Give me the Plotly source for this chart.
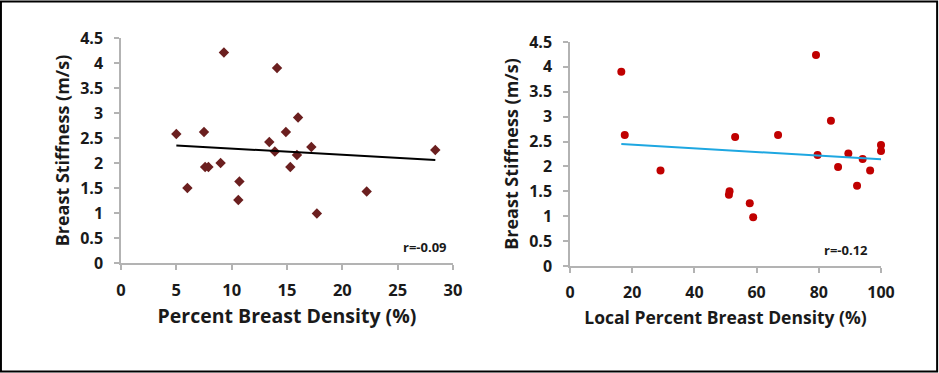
import numpy as np
import plotly.graph_objects as go

# ---- Data: left panel (Percent Breast Density vs Stiffness) ----
pbd_x = [5.0, 6.0, 7.5, 7.6, 7.9, 9.0, 9.3, 10.6, 10.7, 13.4, 13.9, 14.1, 14.9, 15.3, 15.9, 16.0, 17.2, 17.7, 22.2, 28.4]
pbd_y = [2.58, 1.50, 2.62, 1.92, 1.92, 2.00, 4.21, 1.26, 1.63, 2.42, 2.23, 3.90, 2.62, 1.92, 2.16, 2.91, 2.32, 0.99, 1.43, 2.26]
pbd_trend_x = [5.0, 28.4]
pbd_trend_y = [2.35, 2.06]
pbd_r_label = "r=-0.09"

# ---- Data: right panel (Local Percent Breast Density vs Stiffness) ----
lpbd_x = [16.5, 17.6, 29.1, 51.1, 51.3, 53.1, 57.8, 58.9, 66.9, 79.1, 79.6, 83.9, 86.2, 89.5, 92.3, 94.1, 96.5, 100.0, 100.0]
lpbd_y = [3.90, 2.63, 1.92, 1.43, 1.50, 2.59, 1.26, 0.98, 2.63, 4.24, 2.23, 2.92, 1.99, 2.26, 1.61, 2.15, 1.92, 2.43, 2.31]
lpbd_trend_x = [16.5, 100.0]
lpbd_trend_y = [2.45, 2.145]
lpbd_r_label = "r=-0.12"

y_title = "Breast Stiffness (m/s)"
x1_title = "Percent Breast Density (%)"
x2_title = "Local Percent Breast Density (%)"

W, H = 939, 373
FONT = "Open Sans"
TXT = "#1a1a1a"
AX = "#b3b3b3"

fig = go.Figure()
fig.add_trace(go.Scatter(x=pbd_x, y=pbd_y, mode="markers", xaxis="x", yaxis="y", cliponaxis=False,
                         marker=dict(symbol="diamond", size=8, color="#6b1f1f"), showlegend=False))
fig.add_trace(go.Scatter(x=pbd_trend_x, y=pbd_trend_y, mode="lines", xaxis="x", yaxis="y",
                         line=dict(color="black", width=2), showlegend=False))
fig.add_trace(go.Scatter(x=lpbd_x, y=lpbd_y, mode="markers", xaxis="x2", yaxis="y2", cliponaxis=False,
                         marker=dict(symbol="circle", size=8, color="#c00000"), showlegend=False))
fig.add_trace(go.Scatter(x=lpbd_trend_x, y=lpbd_trend_y, mode="lines", xaxis="x2", yaxis="y2",
                         line=dict(color="#1ea7e1", width=2), showlegend=False))

def xaxis(domain, rng, dtick, title, anchor, tsize, fsize):
    return dict(domain=domain, range=rng, dtick=dtick, tick0=0, anchor=anchor,
                showgrid=False, zeroline=False, showline=True, linecolor=AX, linewidth=1.5,
                ticks="outside", ticklen=5, tickcolor=AX, tickwidth=1.5, ticklabelstandoff=6,
                tickfont=dict(family=FONT, size=fsize, color=TXT, weight="bold"),
                title=dict(text=title, standoff=10, font=dict(family=FONT, size=tsize, color=TXT, weight="bold")),
                automargin=False, fixedrange=True)

def yaxis(domain, anchor):
    return dict(domain=domain, range=[0, 4.5], dtick=0.5, tick0=0, anchor=anchor,
                showgrid=False, zeroline=False, showline=True, linecolor=AX, linewidth=1.5,
                ticks="outside", ticklen=5, tickcolor=AX, tickwidth=1.5, ticklabelstandoff=8,
                tickfont=dict(family=FONT, size=16, color=TXT, weight="bold"),
                title=dict(text=y_title, standoff=6, font=dict(family=FONT, size=18, color=TXT, weight="bold")),
                automargin=False, fixedrange=True)

fig.update_layout(
    width=W, height=H,
    margin=dict(l=0, r=0, t=0, b=0),
    paper_bgcolor="white", plot_bgcolor="white",
    xaxis=xaxis([121 / W, 453 / W], [0, 30], 5, x1_title, "y", 19.5, 16.5),
    yaxis=yaxis([1 - 263 / H, 1 - 38 / H], "x"),
    xaxis2=xaxis([570 / W, 881 / W], [0, 100], 20, x2_title, "y2", 17.5, 16),
    yaxis2=yaxis([1 - 266 / H, 1 - 42 / H], "x2"),
    annotations=[
        dict(text=pbd_r_label, x=449 / W, y=1 - 247 / H, xref="paper", yref="paper",
             xanchor="right", yanchor="middle", showarrow=False,
             font=dict(family=FONT, size=13, color=TXT, weight="bold")),
        dict(text=lpbd_r_label, x=870 / W, y=1 - 250 / H, xref="paper", yref="paper",
             xanchor="right", yanchor="middle", showarrow=False,
             font=dict(family=FONT, size=13, color=TXT, weight="bold")),
    ],
    shapes=[dict(type="rect", xref="paper", yref="paper", x0=0.001, x1=0.998, y0=0.004, y1=0.996,
                 line=dict(color="black", width=2))],
)

fig.write_html("out.html", config={"displayModeBar": False},
               post_script="document.body.style.margin='0';document.body.style.overflow='hidden';")
